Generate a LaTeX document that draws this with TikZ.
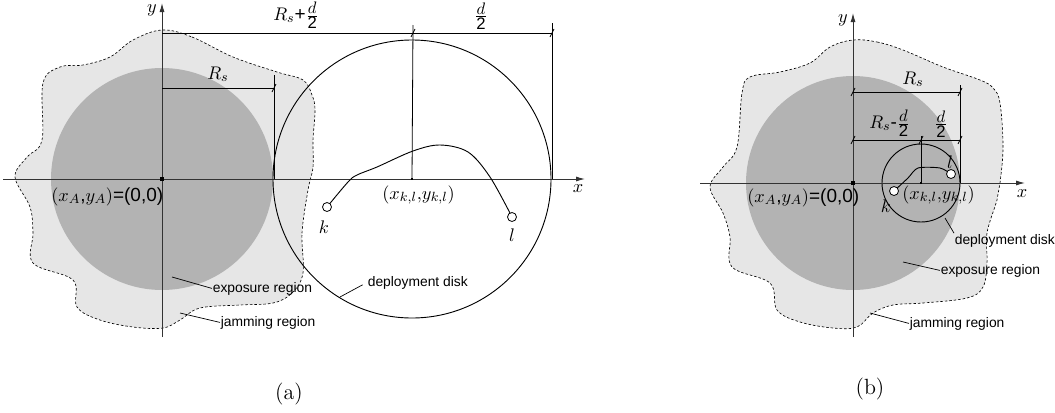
\documentclass[tikz,border=0pt]{standalone}
\usepackage{amsmath}
\usepackage{fontspec}
\newfontfamily\hv{Liberation Sans}
\usetikzlibrary{arrows.meta}
\definecolor{jam}{HTML}{E6E6E6}
\definecolor{expo}{HTML}{B3B3B3}
\definecolor{axc}{HTML}{333333}
\newcommand\fr{{\fontsize{10}{11}\selectfont$\frac{\textstyle d}{\textstyle\text{\hv 2}}$}}
\begin{document}
\begin{tikzpicture}[x=0.6pt,y=-0.6pt,
  axis/.style={draw=axc, line width=0.6pt},
  arr/.style={-{Latex[length=5.4pt,width=3pt]}},
  dimline/.style={draw=black, line width=0.48pt},
  lead/.style={draw=black, line width=0.42pt},
  mlbl/.style={font=\fontsize{11.4}{13}\selectfont, inner sep=0pt},
  slbl/.style={font=\hv\fontsize{8.3}{10}\selectfont, inner sep=0.3pt},
  caplbl/.style={font=\fontsize{13.2}{15}\selectfont, inner sep=0pt},
  jamreg/.style={fill=jam, draw=black, line width=0.38pt, dash pattern=on 1.5pt off 1.2pt},
  expreg/.style={fill=expo, draw=none},
  disk/.style={draw=black, line width=0.55pt},
  traj/.style={draw=black, line width=0.55pt},
  endpt/.style={circle, draw=black, fill=white, line width=0.48pt, minimum size=5.4pt, inner sep=0pt},
  omark/.style={fill=black, minimum size=2.4pt, inner sep=0pt},
  cmark/.style={fill=black, minimum size=1.5pt, inner sep=0pt},
  dtick/.pic={\draw[dimline] (-2,4) -- (2,-4);}
]
\useasboundingbox (0,0) rectangle (1055,412);
% ================= (a) =================
\coordinate (Oa) at (162,179);
\coordinate (Ca) at (412,179);
\draw[jamreg] plot[smooth cycle, tension=0.6] coordinates {
 (162,30) (192,37) (233,57) (277,72) (303,80) (312,95) (315,110) (313,140)
 (313,167) (308,190) (302,233) (303,273) (292,293) (273,303) (240,305)
 (200,308) (180,320) (163,328) (133,327) (100,320) (77,307) (73,280)
 (33,263) (33,233) (30,207) (15,177) (27,157) (42,140) (43,83) (60,67)
 (83,65) (110,57) (133,40)};
\fill[expreg] (Oa) circle[radius=111];
\draw[disk] (Ca) circle[radius=139];
% axes
\coordinate (xa0) at (3,179); \coordinate (xa1) at (585,179);
\coordinate (ya0) at (162,337); \coordinate (ya1) at (162,3);
\draw[axis,arr] (xa0) -- (xa1);
\draw[axis,arr] (ya0) -- (ya1);
\node[omark] (oma) at (Oa) {};
\node[cmark] (cma) at (Ca) {};
% dimensions
\coordinate (ta0) at (162,33); \coordinate (ta1) at (413,33); \coordinate (ta2) at (552,33);
\draw[dimline] (ta0) -- (ta2);
\draw[dimline] (413,25) -- (Ca);
\draw[dimline] (552,23) -- (552,179);
\coordinate (ra0) at (162,88); \coordinate (ra1) at (274,88);
\draw[dimline] (ra0) -- (ra1);
\draw[dimline] (274,75) -- (274,179);
\pic at (ta1) {dtick}; \pic at (ta2) {dtick}; \pic at (ra1) {dtick};
% trajectory
\coordinate (ka) at (327,207); \coordinate (la) at (512,217);
\draw[traj] plot[smooth, tension=0.55] coordinates {(ka) (348,182) (357,175) (377,167) (413,151) (440,145) (468,152) (490,177) (la)};
\node[endpt] (kca) at (ka) {};
\node[endpt] (lca) at (la) {};
% labels
\node[mlbl] (ylbla) at (152,10) {$y$};
\node[mlbl] (xlbla) at (578,189) {$x$};
\node[mlbl, anchor=base west] (Rsa) at (207,79) {$R_s$};
\node[mlbl, anchor=base west] (Rsda) at (273,20) {$R_s$\hv{+}\fr};
\node[mlbl] (dha) at (481,16) {\fr};
\node[mlbl, anchor=base west] (Oalbl) at (51,201) {$(x_{A}$\hv{,}$y_{A})$\hv{=(0,0)}};
\node[mlbl, anchor=base west] (Calbl) at (382,199) {$(x_{k,l}{,}y_{k,l})$};
\node[mlbl] (klbla) at (324,227) {$k$};
\node[mlbl] (llbla) at (512,235) {$l$};
\node[slbl, anchor=base west] (expa) at (212,292) {exposure region};
\node[slbl, anchor=base west] (jama) at (220,326) {jamming region};
\node[slbl, anchor=base west] (depa) at (367,286) {deployment disk};
\coordinate (lea) at (172,277); \coordinate (lja) at (180,313); \coordinate (lda) at (340,297);
\draw[lead] (lea) -- (expa.west);
\draw[lead] (lja) -- (jama.west);
\draw[lead, shorten >=3pt] (lda) -- (depa.west);
\node[caplbl] (capa) at (289,394) {(a)};
% ================= (b) =================
\coordinate (Ob) at (853,183);
\coordinate (Cb) at (921,183);
\draw[jamreg] plot[smooth cycle, tension=0.6] coordinates {
 (853,40) (877,42) (903,50) (943,67) (980,80) (993,88) (1000,103) (1003,147)
 (1000,183) (997,200) (987,233) (987,263) (983,287) (967,298) (923,303)
 (893,305) (873,313) (857,327) (833,328) (800,322) (777,310) (770,283)
 (732,267) (730,237) (723,213) (710,187) (723,167) (737,147) (742,93)
 (750,77) (780,72) (810,63) (830,47)};
\fill[expreg] (Ob) circle[radius=107];
\draw[disk] (Cb) circle[radius=39];
\coordinate (xb0) at (700,183); \coordinate (xb1) at (1025,183);
\coordinate (yb0) at (853,337); \coordinate (yb1) at (853,13);
\draw[axis,arr] (xb0) -- (xb1);
\draw[axis,arr] (yb0) -- (yb1);
\node[omark] (omb) at (Ob) {};
\node[cmark] (cmb) at (Cb) {};
\coordinate (tb0) at (853,92); \coordinate (tb1) at (960,92);
\coordinate (ub0) at (853,140); \coordinate (ub1) at (921,140); \coordinate (ub2) at (960,140);
\draw[dimline] (tb0) -- (tb1);
\draw[dimline] (ub0) -- (ub2);
\draw[dimline] (960,85) -- (960,183);
\draw[dimline] (921,136) -- (Cb);
\pic at (tb0) {dtick}; \pic at (tb1) {dtick};
\pic at (ub0) {dtick}; \pic at (ub1) {dtick}; \pic at (ub2) {dtick};
\coordinate (kb) at (894,191); \coordinate (lb) at (951,174);
\draw[traj] plot[smooth, tension=0.45] coordinates {(kb) (908,178) (918,168) (940,168) (lb)};
\node[endpt] (kcb) at (kb) {};
\node[endpt] (lcb) at (lb) {};
\node[mlbl] (ylblb) at (843,20) {$y$};
\node[mlbl] (xlblb) at (1022,194) {$x$};
\node[mlbl, anchor=base west] (Rsb) at (902,84) {$R_s$};
\node[mlbl, anchor=base west] (Rsmb) at (869,128) {$R_s$\hv{-}\fr};
\node[mlbl] (dhb) at (941,124) {\fr};
\node[mlbl, anchor=base west] (Oblbl) at (747,202) {$(x_{A}$\hv{,}$y_{A})$\hv{=(0,0)}};
\node[mlbl, anchor=base west] (Cblbl) at (902,199) {$(x_{k,l}{,}y_{k,l})$};
\node[mlbl] (klblb) at (886,206) {$k$};
\node[mlbl] (llblb) at (950,162) {$l$};
\node[slbl, anchor=base west] (depb) at (954,244) {deployment disk};
\node[slbl, anchor=base west] (expb) at (940,274) {exposure region};
\node[slbl, anchor=base west] (jamb) at (909,327) {jamming region};
\coordinate (ldb) at (945,218); \coordinate (leb) at (903,262); \coordinate (ljb) at (870,313);
\draw[lead] (ldb) -- (depb.north west);
\draw[lead] (leb) -- (expb.west);
\draw[lead] (ljb) -- (jamb.west);
\node[caplbl] (capb) at (870,389) {(b)};
\end{tikzpicture}
\end{document}
